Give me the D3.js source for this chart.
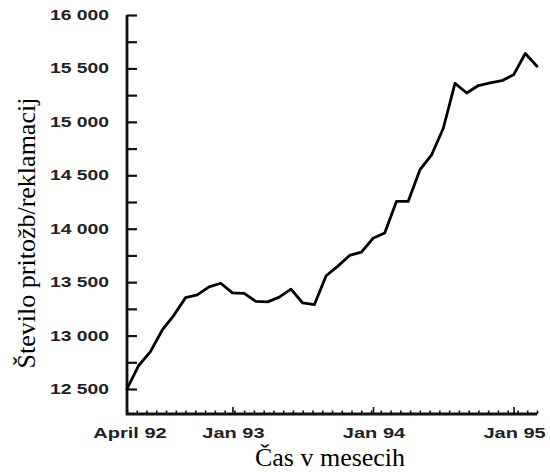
<!DOCTYPE html>
<html>
<head>
<meta charset="utf-8">
<script src="https://cdn.jsdelivr.net/npm/d3@7"></script>
<style>
  html, body { margin: 0; padding: 0; background: #fff; }
  svg { display: block; }
</style>
</head>
<body>
<svg id="chart" width="550" height="472"></svg>
<script>
// ---- data ----
const months = d3.range(36); // 0 = April 92 ... 35 = March 95
const complaints = [
  12500, 12720, 12850, 13050, 13190, 13355, 13380, 13455, 13490, 13400,
  13395, 13320, 13315, 13360, 13435, 13305, 13290, 13560, 13650, 13750,
  13780, 13910, 13960, 14255, 14255, 14550, 14690, 14940, 15360, 15270,
  15340, 15365, 15385, 15440, 15640, 15520
];
const yLabelValues = [12500, 13000, 13500, 14000, 14500, 15000, 15500, 16000];
const yMinorValues = [12500, 12750, 13000, 13250, 13500, 13750, 14000, 14250,
                      14500, 14750, 15000, 15250, 15500, 15750, 16000];
const xLabelMonths = [0, 9, 21, 33];
const xLabels = ["April 92", "Jan 93", "Jan 94", "Jan 95"];
const xMajorTicks = [9, 21, 33];
const yTitle = "Število pritožb/reklamacij";
const xTitle = "Čas v mesecih";

// ---- layout ----
const svg = d3.select("#chart");
const mLeft = 127, mRight = 537, mTop = 15, baseY = 414;
const x = d3.scaleLinear().domain([0, 35]).range([mLeft, mRight]);
const y = d3.scaleLinear().domain([12500, 16000]).range([389, mTop]);
const xMinorTicks = d3.range(43).map(i => i * 35 / 42);
const fmt = v => d3.format(",")(v).replace(",", " ");
const labelFont = "'Liberation Sans', Arial, sans-serif";
const textColor = "#222";
const sx = 1.38;

// y ticks (pointing right)
const yAx = svg.append("g")
  .attr("transform", `translate(${mLeft},0)`)
  .call(d3.axisRight(y).tickValues(yMinorValues).tickSize(10).tickFormat(""));
yAx.select(".domain").remove();
yAx.selectAll(".tick line").attr("stroke", "#111").attr("stroke-width", 2.2);

// x ticks (pointing up)
const xAx = svg.append("g")
  .attr("transform", `translate(0,${baseY})`)
  .call(d3.axisTop(x).tickValues(xMinorTicks).tickSize(3.5).tickFormat(""));
xAx.select(".domain").remove();
xAx.selectAll(".tick line").attr("stroke", "#111").attr("stroke-width", 1.6);
const xAxMaj = svg.append("g")
  .attr("transform", `translate(0,${baseY})`)
  .call(d3.axisTop(x).tickValues(xMajorTicks).tickSize(7).tickFormat(""));
xAxMaj.select(".domain").remove();
xAxMaj.selectAll(".tick line").attr("stroke", "#111").attr("stroke-width", 1.6);

// axis lines
svg.append("path")
  .attr("d", `M${mLeft},${mTop}V${baseY}H${mRight}`)
  .attr("fill", "none").attr("stroke", "#111").attr("stroke-width", 2.8)
  .attr("stroke-linejoin", "miter");

// y labels
svg.append("g").selectAll("text").data(yLabelValues).join("text")
  .attr("transform", d => `translate(109,${y(d)}) scale(${sx},1)`)
  .attr("dy", "0.36em")
  .attr("text-anchor", "end")
  .attr("font-family", labelFont)
  .attr("font-weight", "bold")
  .attr("font-size", 14)
  .attr("fill", textColor)
  .text(fmt);

// x labels
svg.append("g").selectAll("text").data(xLabelMonths).join("text")
  .attr("transform", (d, i) => `translate(${x(d) + (i === 0 ? 3 : 1)},438) scale(${sx},1)`)
  .attr("text-anchor", "middle")
  .attr("font-family", labelFont)
  .attr("font-weight", "bold")
  .attr("font-size", 14.5)
  .attr("fill", textColor)
  .text((d, i) => xLabels[i]);

// line
const line = d3.line().x((d, i) => x(months[i])).y(d => y(d));
svg.append("path")
  .datum(complaints)
  .attr("d", line)
  .attr("fill", "none")
  .attr("stroke", "#000")
  .attr("stroke-width", 2.8)
  .attr("stroke-linejoin", "round")
  .attr("stroke-linecap", "round");

// titles
svg.append("text")
  .attr("transform", "translate(35,233) rotate(-90)")
  .attr("text-anchor", "middle")
  .attr("font-family", "'Liberation Serif', 'Times New Roman', serif")
  .attr("font-size", 26)
  .attr("fill", "#000")
  .text(yTitle);
svg.append("text")
  .attr("x", 330).attr("y", 466)
  .attr("text-anchor", "middle")
  .attr("font-family", "'Liberation Serif', 'Times New Roman', serif")
  .attr("font-size", 26)
  .attr("fill", "#000")
  .text(xTitle);
</script>
</body>
</html>
